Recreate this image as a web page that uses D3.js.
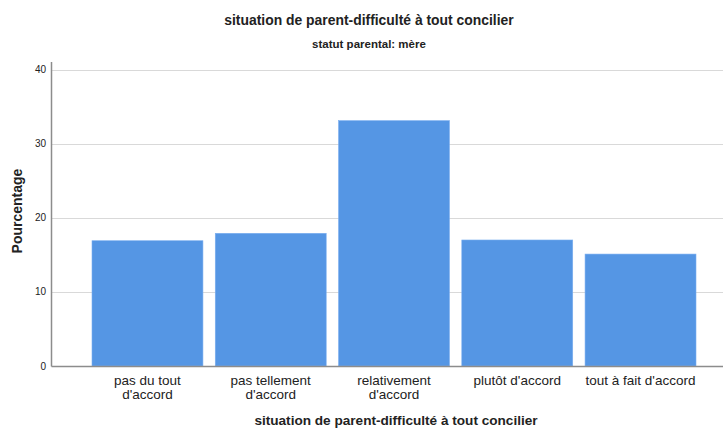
<!DOCTYPE html>
<html><head><meta charset="utf-8">
<script src="https://cdn.jsdelivr.net/npm/d3@7"></script>
<style>body{margin:0;background:#fff}svg{display:block;font-family:"Liberation Sans",Arial,sans-serif}</style>
</head><body><svg id="c" width="723" height="428"></svg>
<script>
const categories = [["pas du tout","d'accord"],["pas tellement","d'accord"],["relativement","d'accord"],["plutôt d'accord"],["tout à fait d'accord"]];
const values = [16.9, 17.9, 33.1, 17.0, 15.1];
const yTicks = [0, 10, 20, 30, 40];
const title = "situation de parent-difficulté à tout concilier";
const subtitle = "statut parental: mère";
const yTitle = "Pourcentage";
const xTitle = "situation de parent-difficulté à tout concilier";

const svg = d3.select("#c");
const axisX = 51.5, plotRight = 723, y0 = 366, yTop = 62;
const y = d3.scaleLinear().domain([0, 40]).range([366, 69.5]);
const x = d3.scaleBand().domain(d3.range(categories.length)).range([92, 696]).paddingInner(0.1).paddingOuter(0);

// gridlines
svg.append("g").selectAll("line").data(yTicks.filter(d => d > 0)).join("line")
  .attr("x1", axisX).attr("x2", plotRight)
  .attr("y1", d => Math.round(y(d)) + 0.5).attr("y2", d => Math.round(y(d)) + 0.5)
  .attr("stroke", "#d9d9d9").attr("stroke-width", 1.2);

// bars
svg.append("g").selectAll("rect").data(values).join("rect")
  .attr("x", (d, i) => x(i)).attr("width", x.bandwidth())
  .attr("y", d => y(d)).attr("height", d => y(0) - y(d))
  .attr("fill", "#5596e4").attr("stroke", "#7aaef0").attr("stroke-width", 0.6);

// axes lines
svg.append("line").attr("x1", axisX).attr("x2", axisX).attr("y1", yTop).attr("y2", y0 + 0.5)
  .attr("stroke", "#8c8c8c").attr("stroke-width", 1.5);
svg.append("line").attr("x1", axisX).attr("x2", plotRight).attr("y1", y0 + 0.5).attr("y2", y0 + 0.5)
  .attr("stroke", "#8c8c8c").attr("stroke-width", 1.3);

// y tick labels
svg.append("g").selectAll("text").data(yTicks).join("text")
  .attr("x", 46).attr("y", d => y(d) + 3.5).attr("text-anchor", "end")
  .attr("font-size", 10).attr("fill", "#222").text(d => d);

// category labels
const cl = svg.append("g").selectAll("text").data(categories).join("text")
  .attr("text-anchor", "middle").attr("font-size", 13.5).attr("fill", "#222");
cl.each(function(d, i) {
  const t = d3.select(this);
  d.forEach((line, j) => {
    t.append("tspan").attr("x", x(i) + x.bandwidth() / 2).attr("y", 385 + j * 14).text(line);
  });
});

// titles
svg.append("text").attr("x", 369).attr("y", 25).attr("text-anchor", "middle")
  .attr("font-size", 13.9).attr("font-weight", "bold").attr("fill", "#222").text(title);
svg.append("text").attr("x", 369).attr("y", 48).attr("text-anchor", "middle")
  .attr("font-size", 11.5).attr("font-weight", "bold").attr("fill", "#222").text(subtitle);
svg.append("text").attr("transform", "translate(22,211) rotate(-90)").attr("text-anchor", "middle")
  .attr("font-size", 14).attr("font-weight", "bold").attr("fill", "#222").text(yTitle);
svg.append("text").attr("x", 396).attr("y", 425).attr("text-anchor", "middle")
  .attr("font-size", 13.6).attr("font-weight", "bold").attr("fill", "#222").text(xTitle);
</script></body></html>
